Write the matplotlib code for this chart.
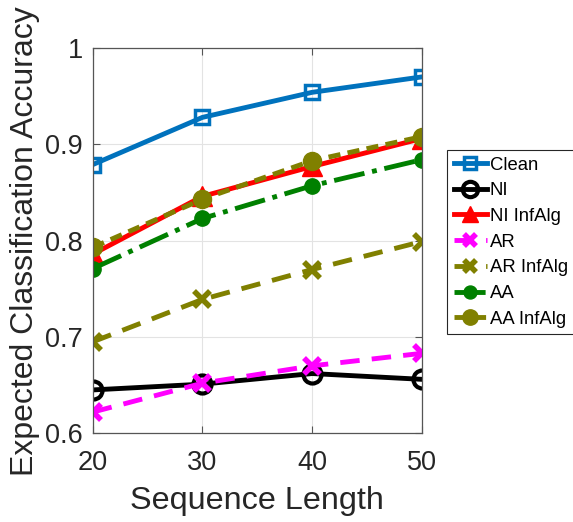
import matplotlib
matplotlib.use("Agg")
import matplotlib.pyplot as plt

plt.rcParams["font.family"] = ["Liberation Sans", "DejaVu Sans"]

seq_len = [20, 30, 40, 50]
clean = [0.879, 0.928, 0.954, 0.970]
ni = [0.645, 0.651, 0.662, 0.656]
ni_inf = [0.786, 0.846, 0.877, 0.906]
ar = [0.622, 0.652, 0.670, 0.683]
ar_inf = [0.695, 0.739, 0.770, 0.799]
aa = [0.771, 0.823, 0.857, 0.884]
aa_inf = [0.793, 0.843, 0.883, 0.908]

olive = (0.5, 0.5, 0.0)
green = (0.0, 0.5, 0.0)
txt = "#262626"

fig = plt.figure(figsize=(5.73, 5.22), dpi=100)
ax = fig.add_axes([0.162, 0.170, 0.574, 0.738])

lw = 3.5
ax.plot(seq_len, clean, "-s", color="#0072BD", lw=lw, ms=10, mfc="none", mew=2.5, label="Clean")
ax.plot(seq_len, ni, "-o", color="black", lw=lw, ms=13, mfc="none", mew=3, label="NI")
ax.plot(seq_len, ni_inf, "-^", color="red", lw=lw, ms=14, label="NI InfAlg")
ax.plot(seq_len, ar, "--x", color="#FF00FF", lw=lw, ms=11, mew=4, dashes=(4, 2.5), label="AR")
ax.plot(seq_len, ar_inf, "--x", color=olive, lw=lw, ms=11, mew=4, dashes=(4, 2.5), label="AR InfAlg")
ax.plot(seq_len, aa, "-.o", color=green, lw=lw, ms=11, label="AA")
ax.plot(seq_len, aa_inf, "--o", color=olive, lw=lw, ms=13, dashes=(2.5, 1.5), label="AA InfAlg")

ax.set_xlim(20, 50)
ax.set_ylim(0.6, 1.0)
ax.set_xticks([20, 30, 40, 50])
ax.set_yticks([0.6, 0.7, 0.8, 0.9, 1.0])
ax.set_yticklabels(["0.6", "0.7", "0.8", "0.9", "1"])
ax.tick_params(labelsize=19.5, direction="in", length=5, color="#555555",
               labelcolor=txt, top=True, right=True)
ax.tick_params(axis="x", pad=12)
ax.tick_params(axis="y", pad=7)
ax.grid(True, color="#e3e3e3", lw=0.8)
ax.set_axisbelow(True)
for s in ax.spines.values():
    s.set_color("#555555")
    s.set_linewidth(0.9)

ax.set_xlabel("Sequence Length", fontsize=23.3, color=txt, labelpad=7)
ax.set_ylabel("Expected Classification Accuracy", fontsize=23, color=txt)
ax.yaxis.set_label_coords(-0.160, 0.5)

leg = ax.legend(loc="upper left", bbox_to_anchor=(1.078, 0.735), fontsize=13.3,
                frameon=True, fancybox=False, edgecolor=txt, framealpha=1,
                handlelength=1.8, handletextpad=0.15, borderpad=0.35,
                labelspacing=0.47, borderaxespad=0, markerscale=0.85)
leg.get_frame().set_linewidth(0.8)
for t in leg.get_texts():
    t.set_color("black")

fig.savefig("out.png", dpi=100)
